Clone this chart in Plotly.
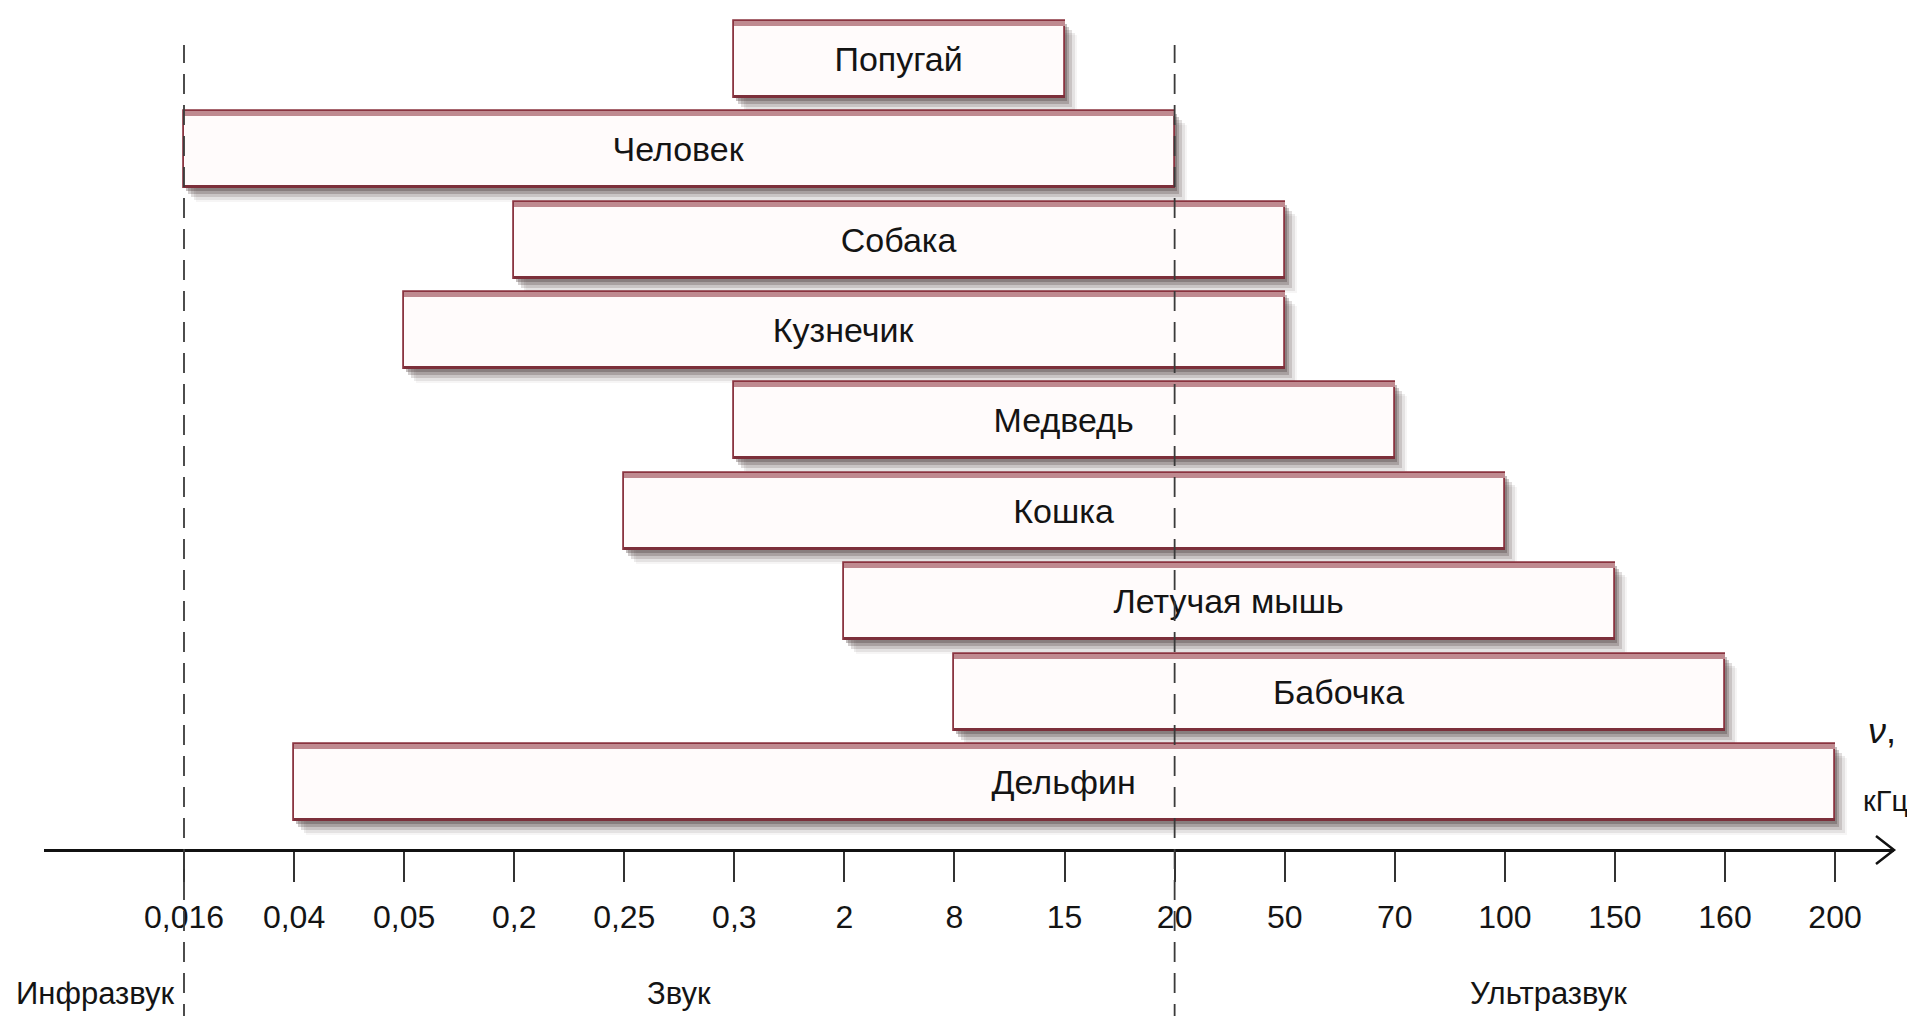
import plotly.graph_objects as go

# ---- data ----
tick_labels = ["0,016", "0,04", "0,05", "0,2", "0,25", "0,3", "2", "8", "15",
               "20", "50", "70", "100", "150", "160", "200"]
animals = ["Попугай", "Человек", "Собака", "Кузнечик", "Медведь", "Кошка",
           "Летучая мышь", "Бабочка", "Дельфин"]
range_from = ["0,3", "0,016", "0,2", "0,05", "0,3", "0,25", "2", "8", "0,04"]
range_to = ["15", "20", "50", "50", "70", "100", "150", "160", "200"]
zone_labels = ["Инфразвук", "Звук", "Ультразвук"]
zone_bounds = ["0,016", "20"]

# ---- derived positions ----
idx = {t: i for i, t in enumerate(tick_labels)}
n = len(animals)
rows = [n - 1 - i for i in range(n)]
starts = [idx[a] for a in range_from]
lengths = [idx[b] - idx[a] for a, b in zip(range_from, range_to)]

W, H = 1915, 1016
px_x = 110.07
px_y = 90.4
XMIN = -(176 - 36) / px_x
XMAX = XMIN + (1886 - 36) / px_x
YMAX = 774.5 / px_y
YMIN = -(H - 774.5) / px_y
AX_Y = 1 - 842 / H
FONT = "Liberation Sans, Arial, sans-serif"
BAR_W = 77 / px_y
TXT = "#141414"

fig = go.Figure()

# soft shadows (bottom/right)
for dx, dy, op in [(2, 3, 0.32), (4, 6, 0.25), (7, 9, 0.17), (10, 12, 0.10), (12, 14, 0.05)]:
    fig.add_trace(go.Bar(
        orientation="h", y=[r - dy / px_y for r in rows],
        base=[s + dx / px_x for s in starts], x=lengths, width=BAR_W,
        marker=dict(color=f"rgba(70,55,55,{op})", line=dict(width=0)),
        hoverinfo="skip", showlegend=False))

# main bars
fig.add_trace(go.Bar(
    orientation="h", y=rows, base=starts, x=lengths, width=BAR_W,
    marker=dict(color="#fffbfb", line=dict(color="#8a3440", width=1.8)),
    text=animals, textposition="inside", insidetextanchor="middle",
    textangle=0, constraintext="none",
    textfont=dict(family=FONT, size=34, color=TXT),
    hoverinfo="skip", showlegend=False))

# top pinkish band and bottom dark band on each bar
top_t = 5 / px_y
bot_t = 3 / px_y
fig.add_trace(go.Bar(
    orientation="h", y=[r + BAR_W / 2 - top_t / 2 for r in rows],
    base=starts, x=lengths, width=top_t,
    marker=dict(color="#bf8a90", line=dict(width=0)),
    hoverinfo="skip", showlegend=False))
fig.add_trace(go.Bar(
    orientation="h", y=[r - BAR_W / 2 + bot_t / 2 for r in rows],
    base=starts, x=lengths, width=bot_t,
    marker=dict(color="#7c2f3a", line=dict(width=0)),
    hoverinfo="skip", showlegend=False))

# dashed boundaries
for b in zone_bounds:
    fig.add_shape(type="line", xref="x", yref="y", x0=idx[b], x1=idx[b],
                  y0=YMIN, y1=(774.5 - 37) / px_y,
                  line=dict(color="#3a3a3a", width=1.8, dash="20px,11px"),
                  layer="above")

# arrow head
fig.add_shape(type="path", xref="paper", yref="paper",
              path=f"M {1868/W} {AX_Y + 14/H} L {1886/W} {AX_Y} L {1868/W} {AX_Y - 14/H}",
              line=dict(color="#111111", width=2.5))

# zone labels
zone_x = [6 / W, (36 + (idx[zone_bounds[0]] + idx[zone_bounds[1]]) / 2 * px_x
                  + 140) / W, 1540 / W]
zone_anchor = ["left", "center", "center"]
for lab, zx, xa in zip(zone_labels, zone_x, zone_anchor):
    fig.add_annotation(x=zx, y=1 - 985 / H, xref="paper", yref="paper", text=lab,
                       showarrow=False, xanchor=xa, yanchor="middle",
                       font=dict(family=FONT, size=31, color=TXT))

# axis unit label
fig.add_annotation(x=1890 / W, y=1 - 722 / H, xref="paper", yref="paper",
                   text="<i>ν</i>,", showarrow=False, xanchor="right", yanchor="middle",
                   font=dict(family=FONT, size=36, color=TXT))
fig.add_annotation(x=1902 / W, y=1 - 793 / H, xref="paper", yref="paper",
                   text="кГц", showarrow=False, xanchor="right", yanchor="middle",
                   font=dict(family=FONT, size=29, color=TXT))

fig.update_layout(
    width=W, height=H, margin=dict(l=0, r=0, t=0, b=0),
    paper_bgcolor="white", plot_bgcolor="rgba(0,0,0,0)",
    barmode="overlay", bargap=0,
    xaxis=dict(domain=[36 / W, 1886 / W], range=[XMIN, XMAX],
               anchor="free", position=AX_Y,
               tickmode="array", tickvals=list(range(len(tick_labels))),
               ticktext=tick_labels, ticks="outside", ticklen=30, tickwidth=1.6,
               tickcolor="#333333", showline=True, linecolor="#111111", linewidth=2.5,
               showgrid=False, zeroline=False, ticklabelstandoff=8,
               tickfont=dict(family=FONT, size=32, color=TXT)),
    yaxis=dict(domain=[0, 1], range=[YMIN, YMAX], visible=False,
               showgrid=False, zeroline=False),
)

fig.write_html("out.html")
